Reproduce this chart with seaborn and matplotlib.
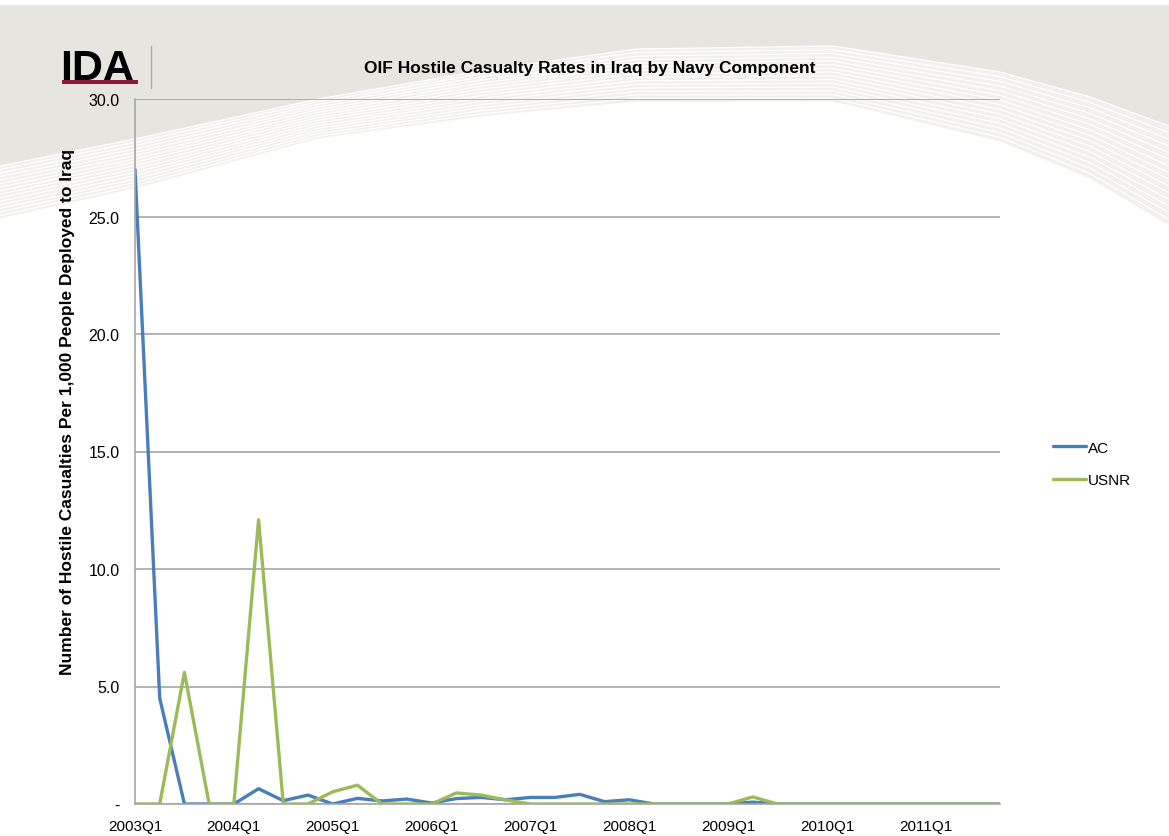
import numpy as np
import pandas as pd
import seaborn as sns
import matplotlib.pyplot as plt

# data, one value per quarter 2003Q1 .. 2011Q4
quarters = [f"{yr}Q{q}" for yr in range(2003, 2012) for q in range(1, 5)]
ac_rates = [27.0, 4.5, 0.0, 0.0, 0.0, 0.65, 0.14, 0.38, 0.0, 0.24,
            0.13, 0.21, 0.04, 0.23, 0.28, 0.18, 0.28, 0.28, 0.41, 0.10,
            0.18, 0.0, 0.0, 0.0, 0.0, 0.08, 0.0, 0.0, 0.0, 0.0,
            0.0, 0.0, 0.0, 0.0, 0.0, 0.0]
usnr_rates = [0.0, 0.0, 5.6, 0.0, 0.0, 12.1, 0.0, 0.0, 0.52, 0.80,
              0.0, 0.0, 0.0, 0.47, 0.38, 0.17, 0.0, 0.0, 0.0, 0.0,
              0.0, 0.0, 0.0, 0.0, 0.0, 0.30, 0.0, 0.0, 0.0, 0.0,
              0.0, 0.0, 0.0, 0.0, 0.0, 0.0]
components = ["AC", "USNR"]
y_ticks = [0, 5, 10, 15, 20, 25, 30]

# slide swoosh outline (pixel coords, decoration only)
swoosh_x = [0, 135, 318, 480, 636, 833, 1000, 1090, 1169]
swoosh_up = [167, 140, 100, 72, 50, 47, 73, 98, 127]
swoosh_low = [220, 190, 140, 118, 103, 103, 143, 180, 227]

BLUE = "#4A7EBB"
GREEN = "#9BBB59"
GRID = "#A6A6A6"

sns.set_theme(style="white")
plt.rcParams["font.family"] = ["Liberation Sans", "DejaVu Sans"]
plt.rcParams["text.color"] = "black"
plt.rcParams["axes.labelcolor"] = "black"
plt.rcParams["xtick.labelcolor"] = "black"
plt.rcParams["ytick.labelcolor"] = "black"

df = pd.DataFrame({
    "idx": list(range(len(quarters))) * 2,
    "rate": ac_rates + usnr_rates,
    "component": [components[0]] * len(quarters) + [components[1]] * len(quarters),
})

W, H = 1169, 837
fig = plt.figure(figsize=(W / 100, H / 100), dpi=100, facecolor="white")

# background slide
bg = fig.add_axes([0, 0, 1, 1], zorder=-1)
bg.set_xlim(0, W)
bg.set_ylim(H, 0)
bg.axis("off")
bg.add_patch(plt.Rectangle((0, 6), W, H, color="#E7E5DF", lw=0))
xx = np.linspace(0, W, 400)
low = np.interp(xx, swoosh_x, swoosh_low)
up = np.interp(xx, swoosh_x, swoosh_up)
bg.fill_between(xx, low, H, color="white", lw=0)
bg.fill_between(xx, up, low, color="#F1F0EC", lw=0)
for k in range(16):
    bg.plot(xx, up + (low - up) * k / 15, color="white", lw=0.9)

# IDA logo
fig.text(60 / W, 1 - 80 / H, "IDA", fontsize=31, fontweight="bold", color="black",
         ha="left", va="baseline")
bg.add_patch(plt.Rectangle((62, 81), 76, 4, color="#8E1B33", lw=0))
bg.plot([151, 151], [47, 89], color="#A8A8A8", lw=1)

# chart
ax = fig.add_axes([135 / W, 1 - 805 / H, (1000 - 135) / W, (805 - 100) / H])
ax.set_facecolor("none")
sns.lineplot(data=df, x="idx", y="rate", hue="component",
             palette={"AC": BLUE, "USNR": GREEN}, linewidth=2.4, ax=ax)

ax.set_xlim(0, len(quarters) - 1)
ax.set_ylim(0, 30)
ax.set_xticks(range(len(quarters)))
ax.set_xticklabels([q if i % 4 == 0 else "" for i, q in enumerate(quarters)], fontsize=11)
ax.set_yticks(y_ticks)
ax.set_yticklabels(["-" if v == 0 else f"{v:.1f}" for v in y_ticks], fontsize=11.5)
ax.tick_params(axis="both", direction="out", length=5, width=1, color=GRID, pad=6)
ax.yaxis.grid(True, color=GRID, lw=1.2)
ax.set_axisbelow(True)
for side in ["top", "right"]:
    ax.spines[side].set_visible(False)
for side in ["left", "bottom"]:
    ax.spines[side].set_color(GRID)
    ax.spines[side].set_linewidth(1.2)

ax.set_xlabel("")
ax.set_ylabel("Number of Hostile Casualties Per 1,000 People Deployed to Iraq",
              fontsize=12.5, fontweight="bold")
ax.yaxis.set_label_coords(-0.069, 0.557)

ax.legend(title=None, frameon=False, fontsize=11, handlelength=2.2, handletextpad=0.1,
          labelspacing=1.2, loc="center left", bbox_to_anchor=(1039 / W, 1 - 465 / H),
          bbox_transform=fig.transFigure)

fig.text(590 / W, 1 - 68 / H, "OIF Hostile Casualty Rates in Iraq by Navy Component",
         fontsize=12.5, fontweight="bold", ha="center", va="center")

fig.savefig("out.png", dpi=100)
